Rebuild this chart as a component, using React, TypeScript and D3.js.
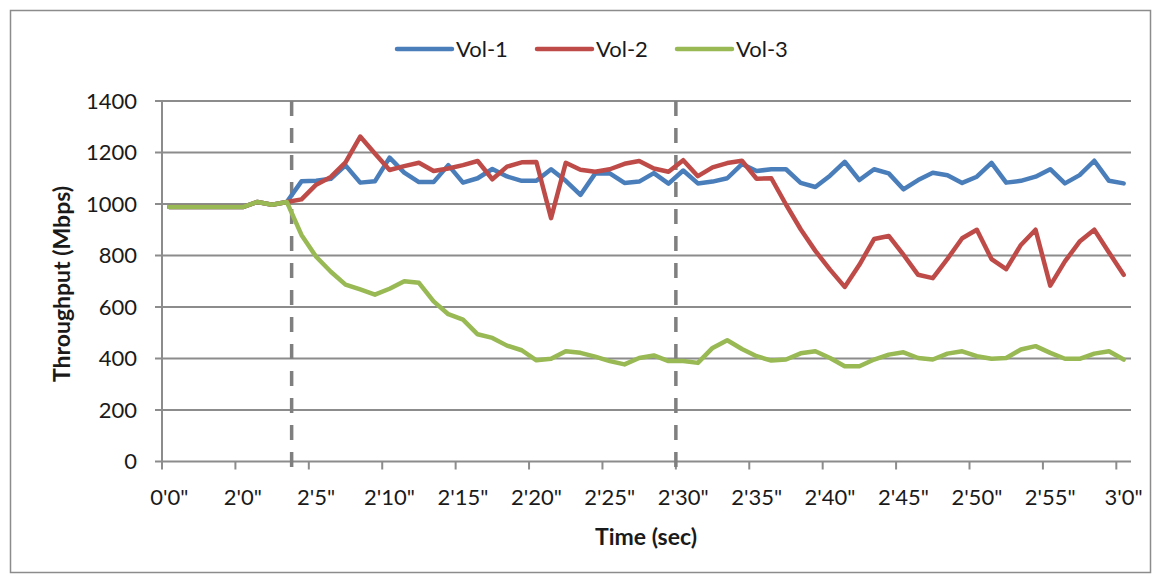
import React from 'react';
import * as d3 from 'd3';

// x axis: one category per sample, a label every 5 categories
const timeLabels = [
  `0'0"`, `2'0"`, `2'5"`, `2'10"`, `2'15"`, `2'20"`, `2'25"`,
  `2'30"`, `2'35"`, `2'40"`, `2'45"`, `2'50"`, `2'55"`, `3'0"`,
];
const labelEvery = 5;
const yTicks = [0, 200, 400, 600, 800, 1000, 1200, 1400];

// Throughput in Mbps, one value per category
const vol1 = [
  988, 988, 988, 988, 988, 988, 1008, 997, 1008, 1088,
  1090, 1098, 1150, 1083, 1088, 1180, 1122, 1085, 1085, 1151,
  1083, 1100, 1136, 1107, 1090, 1090, 1135, 1090, 1035, 1118,
  1119, 1082, 1087, 1120, 1079, 1130, 1080, 1087, 1100, 1155,
  1128, 1135, 1135, 1082, 1066, 1110, 1164, 1093, 1135, 1119,
  1057, 1093, 1121, 1112, 1082, 1106, 1160, 1083, 1090, 1106,
  1135, 1080, 1112, 1168, 1090, 1080,
];
const vol2 = [
  988, 988, 988, 988, 988, 988, 1008, 997, 1008, 1018,
  1075, 1105, 1162, 1262, 1196, 1132, 1147, 1160, 1128, 1138,
  1151, 1167, 1096, 1145, 1162, 1163, 945, 1160, 1133, 1125,
  1135, 1156, 1167, 1138, 1125, 1170, 1108, 1142, 1159, 1168,
  1098, 1100, 998, 902, 818, 745, 678, 764, 864, 876,
  803, 725, 712, 787, 867, 900, 786, 747, 841, 900,
  683, 777, 854, 900, 812, 725,
];
const vol3 = [
  988, 988, 988, 988, 988, 988, 1008, 997, 1008, 880,
  795, 737, 687, 668, 648, 671, 700, 694, 622, 572,
  551, 494, 480, 450, 432, 393, 399, 428, 422, 407,
  390, 377, 402, 412, 390, 390, 383, 441, 471, 437,
  409, 392, 396, 420, 428, 402, 370, 370, 396, 415,
  424, 402, 396, 419, 428, 409, 399, 402, 435, 448,
  422, 399, 399, 419, 428, 396,
];
const seriesNames = ['Vol-1', 'Vol-2', 'Vol-3'];
const seriesColors = ['#4a7ebb', '#be4b48', '#98b954'];

// dashed markers, in category units
const markers = [8.83, 35];

const W = 1160;
const H = 577;
const FONT = 'Lato, "Open Sans", sans-serif';

export default function App() {
  const series = [vol1, vol2, vol3];
  const n = vol1.length;

  const x = d3.scaleBand<number>().domain(d3.range(n)).range([162, 1131]).paddingInner(0);
  const bw = x.bandwidth();
  const xc = (i: number) => (x(i) as number) + bw / 2;
  const y = d3.scaleLinear().domain([0, 1400]).range([461.5, 101]);
  const xPos = d3.scaleLinear().domain([0, n]).range([162, 1131]);

  const line = d3.line<number>()
    .x((_, i) => xc(i))
    .y(d => y(d));

  const tickIdx = d3.range(0, n, labelEvery);

  return (
    <svg width={W} height={H} style={{ position: 'absolute', left: 0, top: 0, background: '#fff' }}>
      <rect x={10.5} y={10.5} width={1140} height={562} fill="#fff" stroke="#8c8c8c" strokeWidth={1.5} />

      {/* grid + y ticks */}
      {yTicks.map(t => (
        <g key={t}>
          <line x1={155} x2={1131} y1={y(t)} y2={y(t)} stroke="#8c8c8c" strokeWidth={2} />
          <text x={137} y={y(t)} dy="0.36em" textAnchor="end" fontFamily={FONT} fontSize={22} fill="#1a1a1a">{t}</text>
        </g>
      ))}
      <line x1={162} x2={162} y1={y(1400)} y2={y(0) + 1} stroke="#8c8c8c" strokeWidth={2} />

      {/* x ticks and labels */}
      {tickIdx.map((i, k) => (
        <g key={i}>
          <line x1={x(i)} x2={x(i)} y1={y(0)} y2={y(0) + 8} stroke="#8c8c8c" strokeWidth={2} />
          <text x={xc(i)} y={505} textAnchor="middle" fontFamily={FONT} fontSize={22} fill="#1a1a1a">{timeLabels[k]}</text>
        </g>
      ))}

      {/* dashed markers */}
      {markers.map(m => (
        <line key={m} x1={xPos(m)} x2={xPos(m)} y1={y(1400)} y2={y(0) + 6}
          stroke="#7f7f7f" strokeWidth={3.5} strokeDasharray="15,12" />
      ))}

      {/* series */}
      {series.map((s, k) => (
        <path key={k} d={line(s) as string} fill="none" stroke={seriesColors[k]}
          strokeWidth={4.5} strokeLinejoin="round" strokeLinecap="round" />
      ))}

      {/* legend */}
      {seriesNames.map((name, k) => (
        <g key={name} transform={`translate(${397 + k * 140},49)`}>
          <line x1={0} x2={55} y1={0} y2={0} stroke={seriesColors[k]} strokeWidth={4.5} strokeLinecap="round" />
          <text x={59} y={7.5} fontFamily={FONT} fontSize={22} fill="#1a1a1a">{name}</text>
        </g>
      ))}

      {/* axis titles */}
      <text x={646} y={545} textAnchor="middle" fontFamily={FONT} fontSize={23} fontWeight="bold" fill="#1a1a1a">Time (sec)</text>
      <text transform="translate(70,284) rotate(-90)" textAnchor="middle" fontFamily={FONT} fontSize={23} fontWeight="bold" fill="#1a1a1a">Throughput (Mbps)</text>
    </svg>
  );
}
